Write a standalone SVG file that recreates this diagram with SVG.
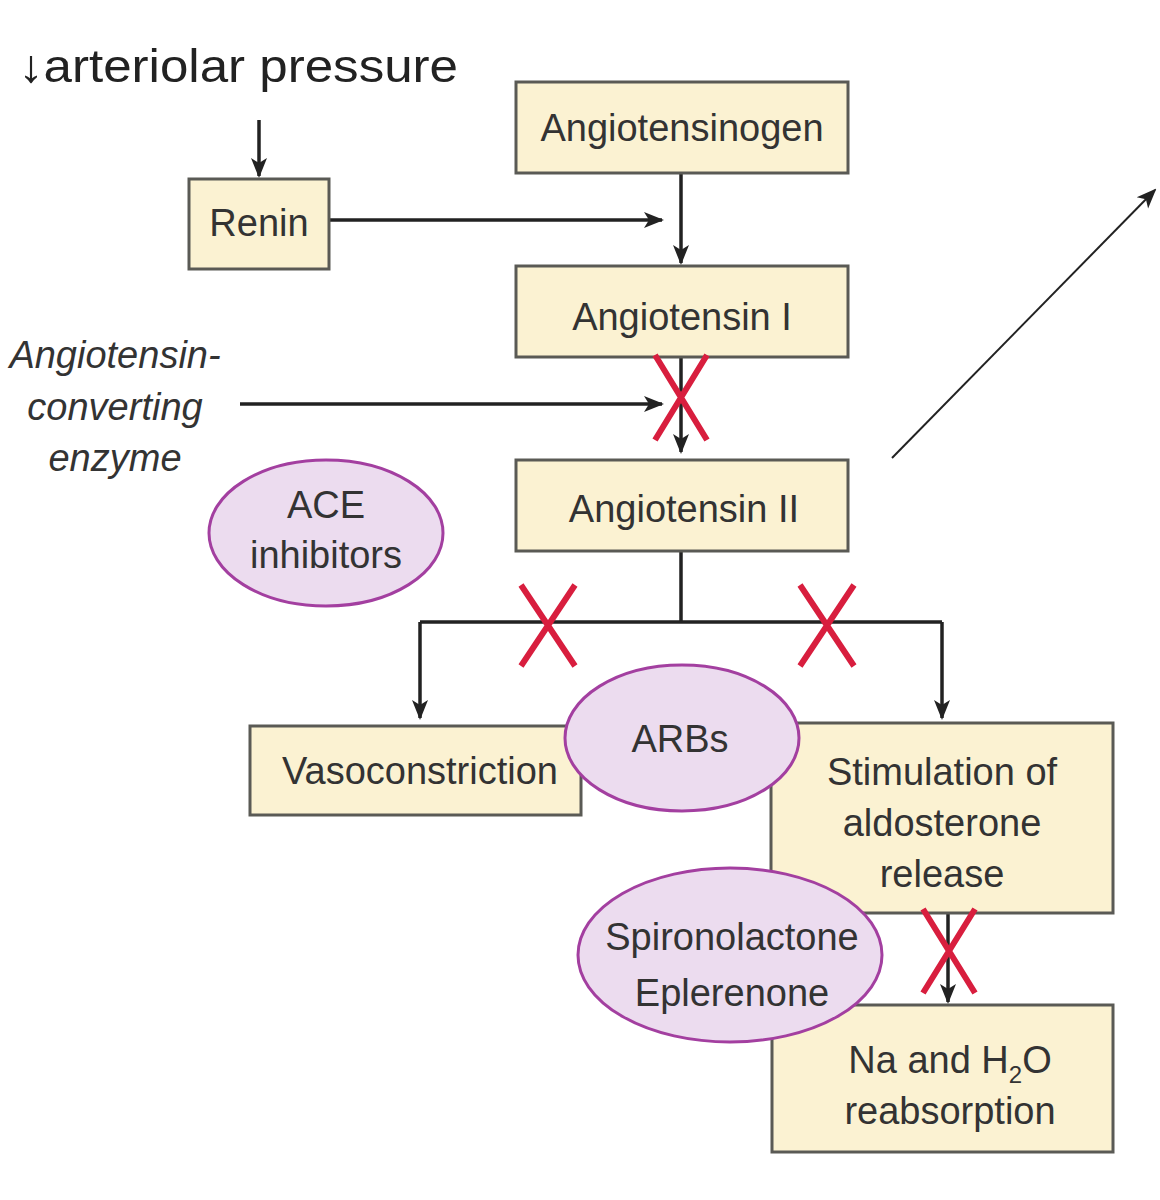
<svg xmlns="http://www.w3.org/2000/svg" width="1160" height="1200" viewBox="0 0 1160 1200">
<style>
.box{fill:#fbf2d2;stroke:#5a5a55;stroke-width:3}
.ell{fill:#ecdcef;stroke:#a33fa0;stroke-width:3}
.t{font-family:"Liberation Sans",Arial,sans-serif;font-size:38px;fill:#333;text-anchor:middle}
.it{font-style:italic}
.ln{stroke:#222;stroke-width:3.5;fill:none}
.x{stroke:#d81e3e;stroke-width:6;fill:none}
</style>
<defs>
<marker id="ab" markerWidth="20" markerHeight="20" refX="18" refY="10" orient="auto" markerUnits="userSpaceOnUse" viewBox="0 0 20 20"><path d="M0,2 L20,10 L0,18 L5,10 Z" fill="#222"/></marker>
</defs>
<g id="connectors">
<path class="ln" d="M259,120 V176" stroke-width="2" marker-end="url(#ab)"/>
<path class="ln" d="M329,220 H662" marker-end="url(#ab)"/>
<path class="ln" d="M681,173 V263" marker-end="url(#ab)"/>
<path class="ln" d="M240,404 H662" marker-end="url(#ab)"/>
<path class="ln" d="M681,357 V452" marker-end="url(#ab)"/>
<path class="ln" d="M681,551 V622 M420,622 H942" />
<path class="ln" d="M420,622 V718" marker-end="url(#ab)"/>
<path class="ln" d="M942,622 V718" marker-end="url(#ab)"/>
<path class="ln" d="M948,913 V1002" marker-end="url(#ab)"/>
<path d="M892,458 L1155,190" stroke="#222" stroke-width="2" fill="none" marker-end="url(#ab)"/>
</g>
<g id="title"><text x="18" y="82" font-family="'Liberation Sans',Arial,sans-serif" font-size="46" fill="#222" textLength="440" lengthAdjust="spacingAndGlyphs">↓arteriolar pressure</text></g>
<g id="renin"><rect class="box" x="189" y="179" width="140" height="90"/><text class="t" x="259" y="236">Renin</text></g>
<g id="angiotensinogen"><rect class="box" x="516" y="82" width="332" height="91"/><text class="t" x="682" y="141">Angiotensinogen</text></g>
<g id="ang1"><rect class="box" x="516" y="266" width="332" height="91"/><text class="t" x="682" y="330">Angiotensin I</text></g>
<g id="ace"><text class="t it" x="115" y="368">Angiotensin-</text><text class="t it" x="115" y="420">converting</text><text class="t it" x="115" y="471">enzyme</text></g>
<g id="ang2"><rect class="box" x="516" y="460" width="332" height="91"/><text class="t" x="684" y="522">Angiotensin II</text></g>
<g id="acei"><ellipse class="ell" cx="326" cy="533" rx="117" ry="73"/><text class="t" x="326" y="518">ACE</text><text class="t" x="326" y="568">inhibitors</text></g>
<g id="vaso"><rect class="box" x="250" y="726" width="331" height="89"/><text class="t" x="420" y="784">Vasoconstriction</text></g>
<g id="stim"><rect class="box" x="771" y="723" width="342" height="190"/><text class="t" x="942" y="785">Stimulation of</text><text class="t" x="942" y="836">aldosterone</text><text class="t" x="942" y="887">release</text></g>
<g id="na"><rect class="box" x="772" y="1005" width="341" height="147"/><text class="t" x="950" y="1073">Na and H<tspan font-size="24" dy="10">2</tspan><tspan dy="-10">O</tspan></text><text class="t" x="950" y="1124">reabsorption</text></g>
<g id="arbs"><ellipse class="ell" cx="682" cy="738" rx="117" ry="73"/><text class="t" x="680" y="752">ARBs</text></g>
<g id="spiro"><ellipse class="ell" cx="730" cy="955" rx="152" ry="87"/><text class="t" x="732" y="950">Spironolactone</text><text class="t" x="732" y="1006">Eplerenone</text></g>
<g id="blocks">
<path class="x" d="M655,355 L707,440 M707,355 L655,440"/>
<path class="x" d="M521,585 L575,666 M575,585 L521,666"/>
<path class="x" d="M800,585 L854,666 M854,585 L800,666"/>
<path class="x" d="M923,909 L975,993 M975,909 L923,993"/>
</g>
</svg>
